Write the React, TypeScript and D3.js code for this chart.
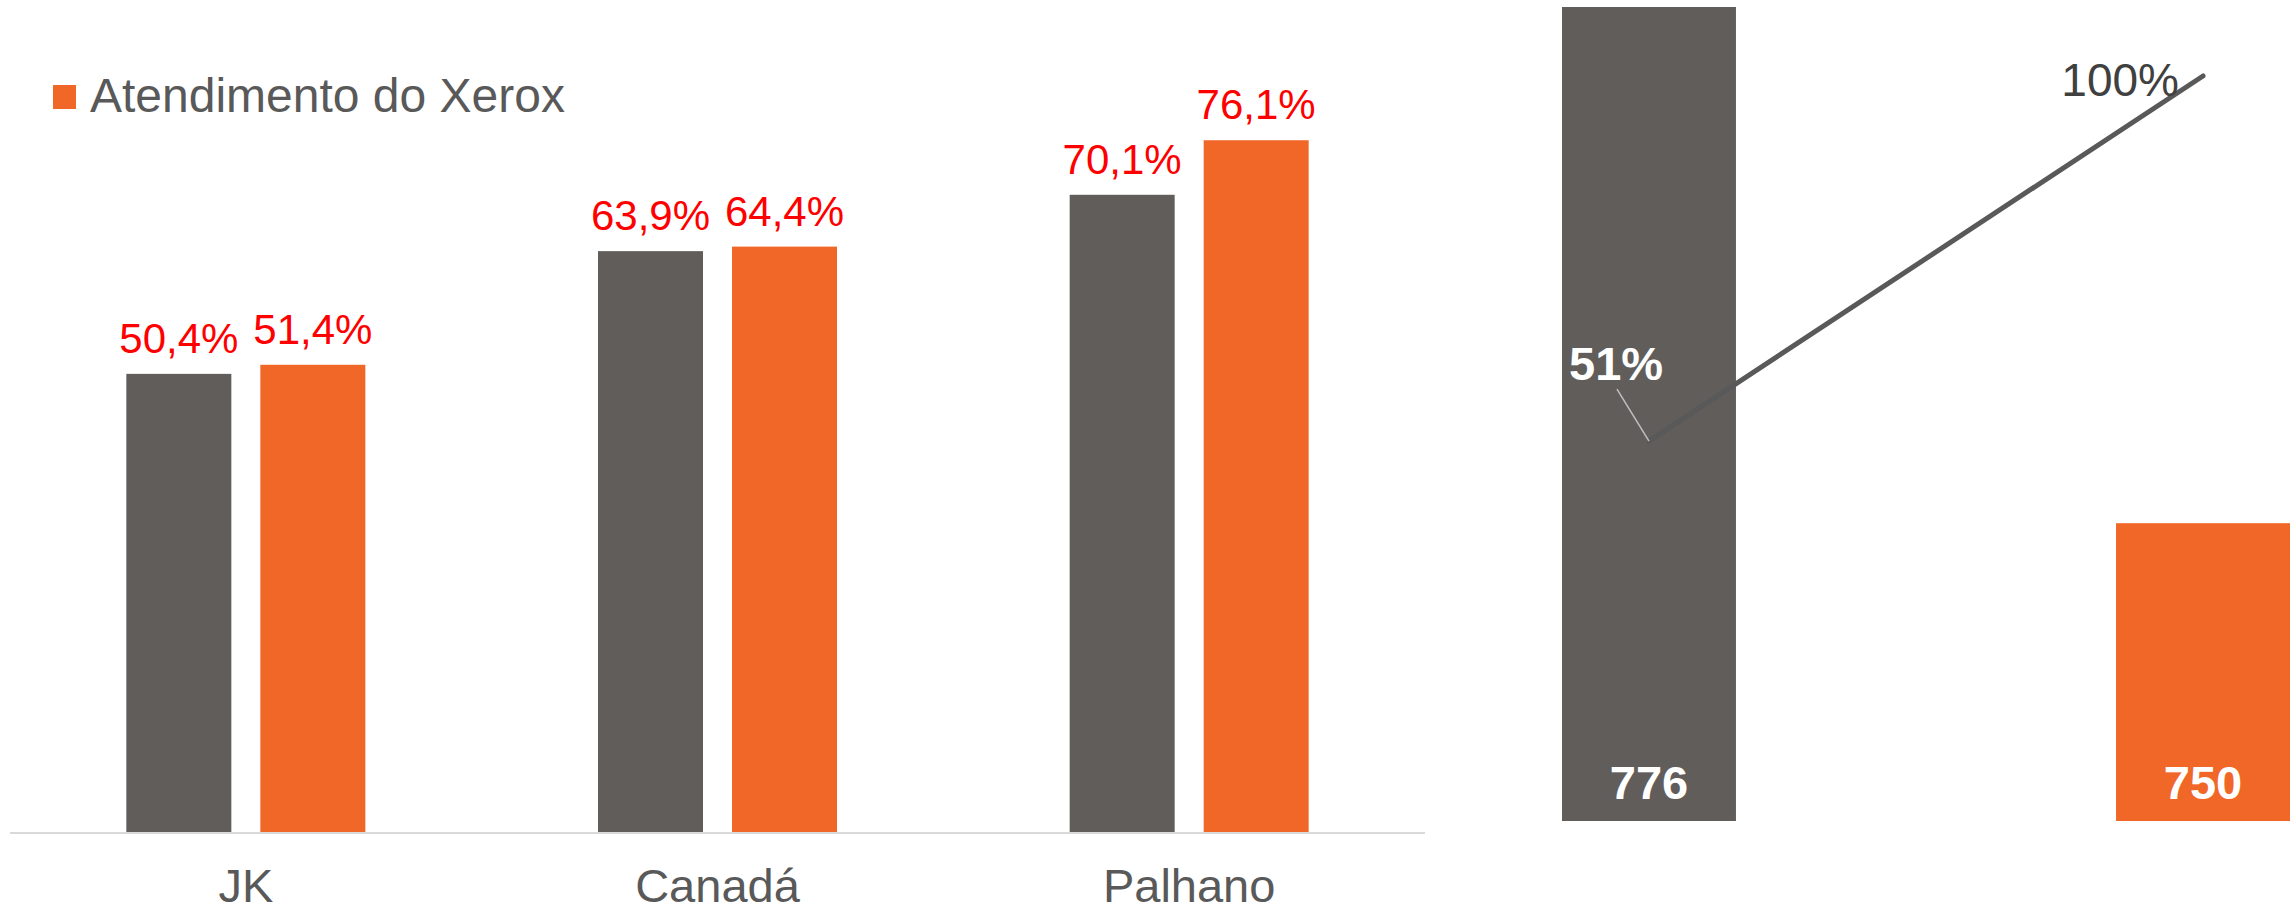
import React from "react";
import * as d3 from "d3";

const categories = ["JK", "Canadá", "Palhano"];
const seriesGray = [50.4, 63.9, 70.1];
const seriesOrange = [51.4, 64.4, 76.1];
const legendLabel = "Atendimento do Xerox";

const paretoCats = ["Gray", "Orange"];
const paretoValues = [776, 750];
const paretoPct = [51, 100];

const GRAY = "#615D5B";
const ORANGE = "#F06727";
const TEXT = "#595959";
const FONT = "'Liberation Sans', Arial, sans-serif";

const ptFormat = d3.formatLocale({ decimal: ",", thousands: ".", grouping: [3], currency: ["R$", ""] }).format(".1f");

export default function App() {
  const W = 2292, H = 910;
  // left chart
  const baseY = 832;
  const x0 = d3.scaleBand<string>().domain(categories).range([10, 1425]).padding(0);
  const groupW = 239;
  const x1 = d3.scaleBand<string>().domain(["g", "o"]).range([0, groupW]).paddingInner(0.2164).paddingOuter(0);
  const y = d3.scaleLinear().domain([0, 100]).range([baseY, baseY - 909]);
  const series = [
    { key: "g", values: seriesGray, color: GRAY },
    { key: "o", values: seriesOrange, color: ORANGE },
  ];

  // right chart
  const xr = d3.scaleBand<string>().domain(paretoCats).range([1562, 2290]).paddingInner(0.686).paddingOuter(0);
  const yr = d3.scaleLinear().domain([735, 776]).range([821, 7]);
  const yp = d3.scaleLinear().domain([0, 100]).range([821, 76]);
  const linePts: [number, number][] = paretoCats.map((c, i) => [xr(c)! + xr.bandwidth() / 2, yp(paretoPct[i])]);
  const line = d3.line();

  return (
    <svg width={W} height={H} style={{ position: "absolute", left: 0, top: 0, background: "#fff" }} fontFamily={FONT}>
      <rect x={0} y={0} width={W} height={H} fill="#fff" />
      {/* legend */}
      <rect x={53} y={85} width={23} height={24} fill={ORANGE} />
      <text x={90} y={112} fontSize={48} fill={TEXT}>{legendLabel}</text>

      {/* bars */}
      {categories.map((c, ci) => {
        const gx = x0(c)! + (x0.bandwidth() - groupW) / 2;
        return (
          <g key={c}>
            {series.map((s) => {
              const bx = gx + x1(s.key)!;
              const by = y(s.values[ci]);
              return (
                <g key={s.key}>
                  <rect x={bx} y={by} width={x1.bandwidth()} height={baseY - by} fill={s.color} />
                  <text x={bx + x1.bandwidth() / 2} y={by - 21} fontSize={42} fill="#FF0000" textAnchor="middle">
                    {ptFormat(s.values[ci]) + "%"}
                  </text>
                </g>
              );
            })}
            <text x={x0(c)! + x0.bandwidth() / 2} y={902} fontSize={47} fill={TEXT} textAnchor="middle">{c}</text>
          </g>
        );
      })}
      <line x1={10} x2={1425} y1={baseY + 1} y2={baseY + 1} stroke="#D9D9D9" strokeWidth={2} />

      {/* pareto */}
      {paretoCats.map((c, i) => {
        const bx = xr(c)!;
        const by = yr(paretoValues[i]);
        return (
          <g key={c}>
            <rect x={bx} y={by} width={xr.bandwidth()} height={821 - by} fill={i === 0 ? GRAY : ORANGE} />
            <text x={bx + xr.bandwidth() / 2} y={799} fontSize={47} fontWeight="bold" fill="#fff" textAnchor="middle">
              {paretoValues[i]}
            </text>
          </g>
        );
      })}
      <path d={line(linePts) || ""} fill="none" stroke="#595959" strokeWidth={5} strokeLinecap="round" />
      <line x1={linePts[0][0] - 32} y1={linePts[0][1] - 52} x2={linePts[0][0]} y2={linePts[0][1]} stroke="#BFBFBF" strokeWidth={1.5} />
      <text x={1569} y={380} fontSize={47} fontWeight="bold" fill="#fff">{paretoPct[0] + "%"}</text>
      <text x={linePts[1][0] - 24} y={96} fontSize={46} fill="#404040" textAnchor="end">{paretoPct[1] + "%"}</text>
    </svg>
  );
}
